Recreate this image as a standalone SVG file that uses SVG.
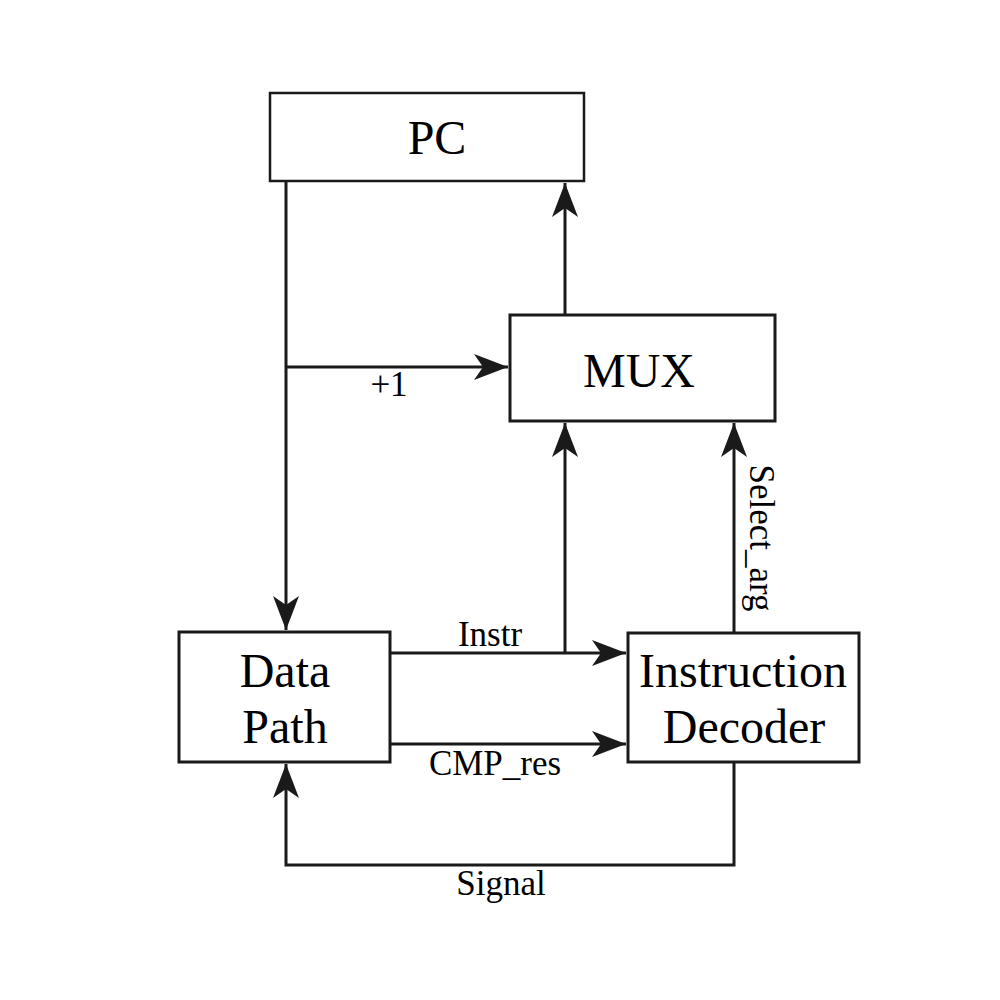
<svg xmlns="http://www.w3.org/2000/svg" width="1000" height="1000" viewBox="0 0 1000 1000">
<style>
.box{fill:#fff;stroke:#1a1a1a;stroke-width:3}
.t{font-family:"Liberation Serif","Times New Roman",serif;fill:#000;text-anchor:middle}
.big{font-size:48px}
.lbl{font-size:35px}
.c{fill:none;stroke:#1a1a1a;stroke-width:3;marker-end:url(#ah)}
</style>
<defs>
<marker id="ah" markerUnits="userSpaceOnUse" markerWidth="40" markerHeight="30" viewBox="-36 -15 38 30" refX="0" refY="0" orient="auto">
<path d="M0,0 L-34,-13 L-25,0 L-34,13 Z" fill="#1a1a1a"/>
</marker>
</defs>
<rect width="1000" height="1000" fill="#fff"/>
<g id="connectors">
<path class="c" d="M286,181 L286,630"/>
<path class="c" d="M286,367 L508,367"/>
<path class="c" d="M565,315 L565,183"/>
<path class="c" d="M390,653 L626,653"/>
<path class="c" d="M565,653 L565,423"/>
<path class="c" d="M390,744 L626,744"/>
<path class="c" d="M734,633 L734,423"/>
<path class="c" d="M734,762 L734,865 L286,865 L286,764"/>
<text class="t lbl" x="389" y="396">+1</text>
<text class="t lbl" x="490" y="646">Instr</text>
<text class="t lbl" x="495" y="775">CMP_res</text>
<text class="t lbl" x="501" y="895">Signal</text>
<text class="t lbl" transform="translate(750,538) rotate(90)" x="0" y="0">Select_arg</text>
</g>
<g id="pc">
<rect class="box" x="270" y="93" width="314" height="88" style="stroke-width:2.5"/>
<text class="t big" x="437" y="154">PC</text>
</g>
<g id="mux">
<rect class="box" x="510" y="315" width="265" height="106"/>
<text class="t big" x="639" y="387">MUX</text>
</g>
<g id="datapath">
<rect class="box" x="179" y="632" width="211" height="130"/>
<text class="t big" x="285" y="687">Data</text>
<text class="t big" x="285" y="743">Path</text>
</g>
<g id="decoder">
<rect class="box" x="628" y="633" width="231" height="129"/>
<text class="t big" x="743" y="687">Instruction</text>
<text class="t big" x="744" y="743">Decoder</text>
</g>
</svg>
